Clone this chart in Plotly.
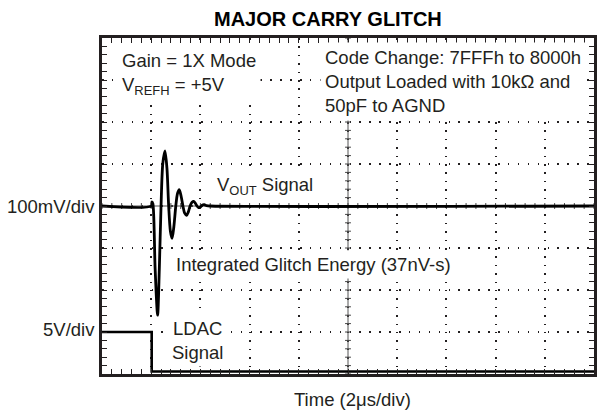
import plotly.graph_objects as go

# ---- data -------------------------------------------------------------
# VOUT channel (100 mV/div): time in microseconds, voltage in mV
vout_t = [0, 2.0, 2.03, 2.07, 2.16, 2.26, 2.33, 2.40, 2.47, 2.56, 2.64, 2.71,
          2.78, 2.85, 2.92, 3.00, 3.07, 3.14, 3.21, 3.29, 3.36, 3.44, 3.51,
          3.58, 3.66, 3.73, 3.80, 3.86, 3.93, 3.99, 4.07, 4.16, 4.25, 4.40, 20]
vout_mv = [0, 0, 10, 5, -150, -260, -150, 0, 100, 131, 90, 0,
           -60, -77, -50, 0, 30, 39, 25, 0, -17, -22, -14,
           0, 9, 11, 6, 0, -4, -3, 2, 3, 1, 0, 0]

# LDAC channel (5 V/div): time in microseconds, voltage in V
ldac_t = [0, 2.02, 2.02, 20]
ldac_v = [4.7, 4.7, 0, 0]

# screen settings of the scope
time_per_div = 2.0          # us/div
vout_per_div = 100.0        # mV/div
ldac_per_div = 5.0          # V/div
ldac_ground_div = -3.94     # LDAC ground position in divisions

INK = "#231f20"
FONT = "Liberation Sans, Arial, Helvetica, sans-serif"

# LDAC trace expressed on the VOUT (mV) scale of the graticule
ldac_plot = [(v / ldac_per_div + ldac_ground_div) * vout_per_div for v in ldac_v]

fig = go.Figure()
fig.add_trace(go.Scatter(x=vout_t, y=vout_mv, mode="lines",
                         line=dict(color="black", width=2.8, shape="spline", smoothing=0.8),
                         hoverinfo="skip", showlegend=False))
fig.add_trace(go.Scatter(x=ldac_t, y=ldac_plot, mode="lines",
                         line=dict(color="black", width=2.6),
                         hoverinfo="skip", showlegend=False))

x_max = 10 * time_per_div
y_max = 4 * vout_per_div
x_mid = x_max / 2

# centre crosshair with its small graduation marks
shapes = [
    dict(type="line", xref="x", yref="y", x0=x_mid, x1=x_mid, y0=-y_max, y1=y_max,
         line=dict(color="#555555", width=1), layer="between"),
    dict(type="line", xref="x", yref="y", x0=0, x1=x_max, y0=0, y1=0,
         line=dict(color="#555555", width=1), layer="between"),
]
hx = 0.12   # half tick length, us
hy = 7.0    # half tick length, mV
segs = []
n_y = int(round(2 * y_max / (vout_per_div / 5)))
for i in range(n_y + 1):
    y = -y_max + i * vout_per_div / 5
    segs.append(f"M{x_mid - hx},{y} L{x_mid + hx},{y}")
n_x = int(round(x_max / (time_per_div / 5)))
for i in range(n_x + 1):
    x = i * time_per_div / 5
    segs.append(f"M{x},{-hy} L{x},{hy}")
shapes.append(dict(type="path", xref="x", yref="y", path=" ".join(segs),
                   line=dict(color="#444444", width=1), layer="between"))

txt = dict(family=FONT, size=18.5, color=INK)
annotations = [
    dict(text="<b>MAJOR CARRY GLITCH</b>", xref="paper", yref="paper", x=0.4586, y=1.0557,
         xanchor="center", yanchor="middle", showarrow=False,
         font=dict(family=FONT, size=20, color="black")),
    dict(text="Time (2\u03bcs/div)", xref="paper", yref="paper", x=0.509, y=-0.0753,
         xanchor="center", yanchor="middle", showarrow=False, font=txt),
    dict(text="100mV/div", xref="paper", yref="y", x=-0.0107, y=0,
         xanchor="right", yanchor="middle", showarrow=False, font=txt),
    dict(text="5V/div", xref="paper", yref="y", x=-0.0107, y=-293,
         xanchor="right", yanchor="middle", showarrow=False, font=txt),
    dict(text="Gain = 1X Mode<br>V<sub>REFH</sub> = +5V", xref="x", yref="y", x=0.61, y=314,
         xanchor="left", yanchor="middle", align="left", showarrow=False, font=txt,
         bgcolor="white", borderpad=4),
    dict(text="Code Change: 7FFFh to 8000h<br>Output Loaded with 10k\u03a9 and<br>50pF to AGND",
         xref="x", yref="y", x=8.85, y=297, xanchor="left", yanchor="middle", align="left",
         showarrow=False, font=txt, bgcolor="white", borderpad=4),
    dict(text="V<sub>OUT</sub> Signal", xref="x", yref="y", x=4.51, y=48,
         xanchor="left", yanchor="middle", showarrow=False, font=txt,
         bgcolor="white", borderpad=3),
    dict(text="Integrated Glitch Energy (37nV-s)", xref="x", yref="y", x=2.83, y=-139,
         xanchor="left", yanchor="middle", showarrow=False, font=txt,
         bgcolor="white", borderpad=3),
    dict(text="LDAC<br>Signal", xref="x", yref="y", x=3.88, y=-320,
         xanchor="center", yanchor="middle", align="center", showarrow=False, font=txt,
         bgcolor="white", borderpad=3),
]

axis_common = dict(showline=True, linecolor=INK, linewidth=2.5, mirror="ticks",
                   ticks="inside", ticklen=5, tickwidth=1, tickcolor=INK,
                   showticklabels=False, zeroline=False, showgrid=True,
                   gridcolor=INK, gridwidth=1.5, fixedrange=True)

fig.update_layout(
    width=597, height=410,
    margin=dict(l=102, r=0, t=38, b=36),
    paper_bgcolor="white", plot_bgcolor="white",
    xaxis=dict(range=[0, x_max], dtick=time_per_div, tick0=0,
               griddash="1.5px,6.9px",
               minor=dict(dtick=time_per_div / 5, ticks="inside", ticklen=5,
                          tickwidth=1, tickcolor=INK, showgrid=False),
               **axis_common),
    yaxis=dict(range=[-y_max, y_max], dtick=vout_per_div, tick0=0,
               griddash="1.5px,8.4px",
               minor=dict(dtick=vout_per_div / 5, ticks="inside", ticklen=5,
                          tickwidth=1, tickcolor=INK, showgrid=False),
               **axis_common),
    shapes=shapes,
    annotations=annotations,
    showlegend=False,
)

fig.write_html("out.html")
